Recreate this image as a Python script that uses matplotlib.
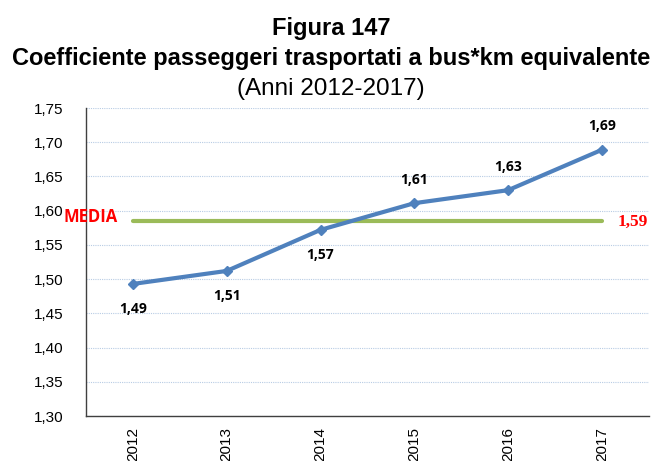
import matplotlib
matplotlib.use("Agg")
import matplotlib.pyplot as plt
from matplotlib.ticker import FuncFormatter

years = ["2012", "2013", "2014", "2015", "2016", "2017"]
values = [1.493, 1.512, 1.572, 1.611, 1.630, 1.689]
labels = ["1,49", "1,51", "1,57", "1,61", "1,63", "1,69"]
label_pos = ["below", "below", "below", "above", "above", "above"]
media = 1.585
media_label = "1,59"
yticks = [1.30, 1.35, 1.40, 1.45, 1.50, 1.55, 1.60, 1.65, 1.70, 1.75]

plt.rcParams['font.family'] = ['Liberation Sans', 'DejaVu Sans']
fig = plt.figure(figsize=(6.62, 4.61), dpi=100)
ax = fig.add_axes([0.130, 0.0976, 0.850, 0.668])

x = list(range(len(years)))
ax.set_xlim(-0.5, len(years) - 0.5)
ax.set_ylim(1.30, 1.75)
ax.set_yticks(yticks)
ax.yaxis.set_major_formatter(FuncFormatter(lambda v, p: f"{v:.2f}".replace(".", ",")))
ax.grid(axis='y', color='#b8cce4', linestyle=(0, (1, 1)), linewidth=0.8)
ax.set_axisbelow(True)
ax.set_xticks(x)
ax.set_xticklabels(years, rotation=90)
ax.tick_params(axis='both', labelsize=11, length=0)
ax.tick_params(axis='y', pad=16)
ax.tick_params(axis='x', pad=8)
for s in ['top', 'right']:
    ax.spines[s].set_visible(False)
for s in ['left', 'bottom']:
    ax.spines[s].set_color('#404040')
    ax.spines[s].set_linewidth(1.0)

ax.plot([x[0], x[-1]], [media, media], color='#9bbb59', linewidth=3, solid_capstyle='round', zorder=2)
ax.plot(x, values, color='#4f81bd', linewidth=3, marker='D', markersize=5, zorder=3)

for xi, v, lab, pos in zip(x, values, labels, label_pos):
    off = -18 if pos == "below" else 17
    ax.annotate(lab, (xi, v), xytext=(0, off), textcoords='offset points', ha='center', va='center',
                fontsize=10, fontweight='bold', family=['Open Sans', 'DejaVu Sans'])

ax.annotate("MEDIA", (x[0], media), xytext=(-50, 3), textcoords='offset points', ha='left', va='center',
            fontsize=12, fontweight='bold', color='#ff0000', family=['Open Sans', 'DejaVu Sans'])
ax.annotate(media_label, (x[-1], media), xytext=(11, -1), textcoords='offset points', ha='left', va='center',
            fontsize=12.5, fontweight='bold', color='#ff0000', family=['Liberation Serif', 'DejaVu Serif'])

fig.text(0.5, 1 - 29 / 461, "Figura 147", ha='center', va='center', fontsize=17, fontweight='bold')
fig.text(0.5, 1 - 59 / 461, "Coefficiente passeggeri trasportati a bus*km equivalente", ha='center', va='center',
         fontsize=17, fontweight='bold')
fig.text(0.5, 1 - 89 / 461, "(Anni 2012-2017)", ha='center', va='center', fontsize=17.5)

fig.savefig("out.png", dpi=100)
